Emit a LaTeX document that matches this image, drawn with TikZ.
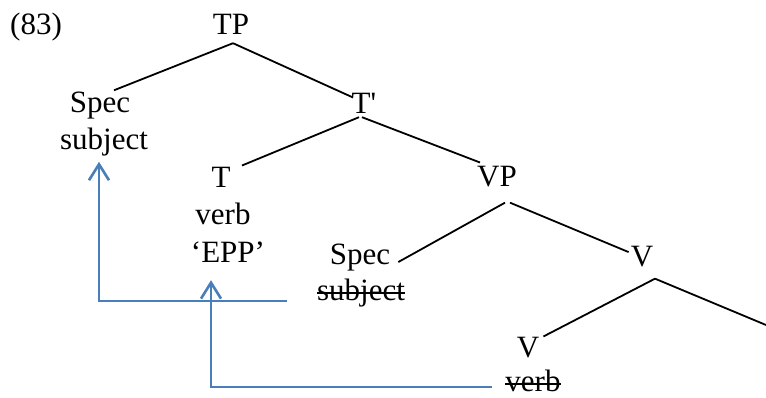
\documentclass[tikz,border=0pt]{standalone}
\usepackage{fontspec}
\setmainfont{Liberation Serif}
\usetikzlibrary{arrows.meta}
\definecolor{movblue}{RGB}{74,126,187}
\newsavebox{\strkbox}
\newcommand{\strk}[1]{\sbox{\strkbox}{#1}\rlap{\usebox{\strkbox}}\rule[0.2em]{\wd\strkbox}{1.4pt}}
\begin{document}
\begin{tikzpicture}[x=1pt,y=-1pt,
  lbl/.style={inner sep=0pt, anchor=base, font=\fontsize{31}{37}\selectfont},
  br/.style={line width=1.8pt},
  mv/.style={draw=movblue, line width=2.6pt, -{Straight Barb[length=16pt,width=20pt]}}]
\useasboundingbox (0,0) rectangle (766,398);
% labels
\node [lbl, anchor=base west] (ex) at (10,35) {(83)};
\node [lbl] (tp) at (231,35) {TP};
\node [lbl] (spec1) at (100,113) {Spec};
\node [lbl] (subj1) at (104,150) {subject};
\node [lbl] (tbar) at (364,114) {T\textquotesingle};
\node [lbl] (t) at (221,188) {T};
\node [lbl] (verb1) at (223,225) {verb};
\node [lbl] (epp) at (228,263) {‘EPP’};
\node [lbl] (vp) at (497,187) {VP};
\node [lbl] (spec2) at (360,265) {Spec};
\node [lbl] (subj2) at (361,300) {\strk{subject}};
\node [lbl] (vmid) at (642,267) {V};
\node [lbl] (vlow) at (528,357) {V};
\node [lbl] (verb2) at (533,391) {\strk{verb}};
\coordinate (cut) at (766,325);
% branches
\draw [br] ([shift={(2,8)}]tp.south) -- ([shift={(14,-2)}]spec1.north);
\draw [br] ([shift={(2,8)}]tp.south) -- ([shift={(-11,4)}]tbar.north);
\draw [br] ([shift={(-5,3)}]tbar.south) -- ([shift={(21,-2)}]t.north);
\draw [br] ([shift={(-2,3)}]tbar.south) -- ([shift={(-17,-4)}]vp.north);
\draw [br] ([shift={(8,15)}]vp.south) -- ([shift={(8,4)}]spec2.east);
\draw [br] ([shift={(13,15)}]vp.south) -- ([shift={(-2,-5)}]vmid.west);
\draw [br] ([shift={(13,11)}]vmid.south) -- ([shift={(4,0)}]vlow.north east);
\draw [br] ([shift={(13,11)}]vmid.south) -- (cut);
% movement
\draw [mv] ([shift={(-30,1)}]subj2.base west) -| ([shift={(-5,5)}]subj1.south);
\draw [mv] ([shift={(-13.5,-4)}]verb2.base west) -| ([shift={(-17,17)}]epp.south);
\end{tikzpicture}
\end{document}
